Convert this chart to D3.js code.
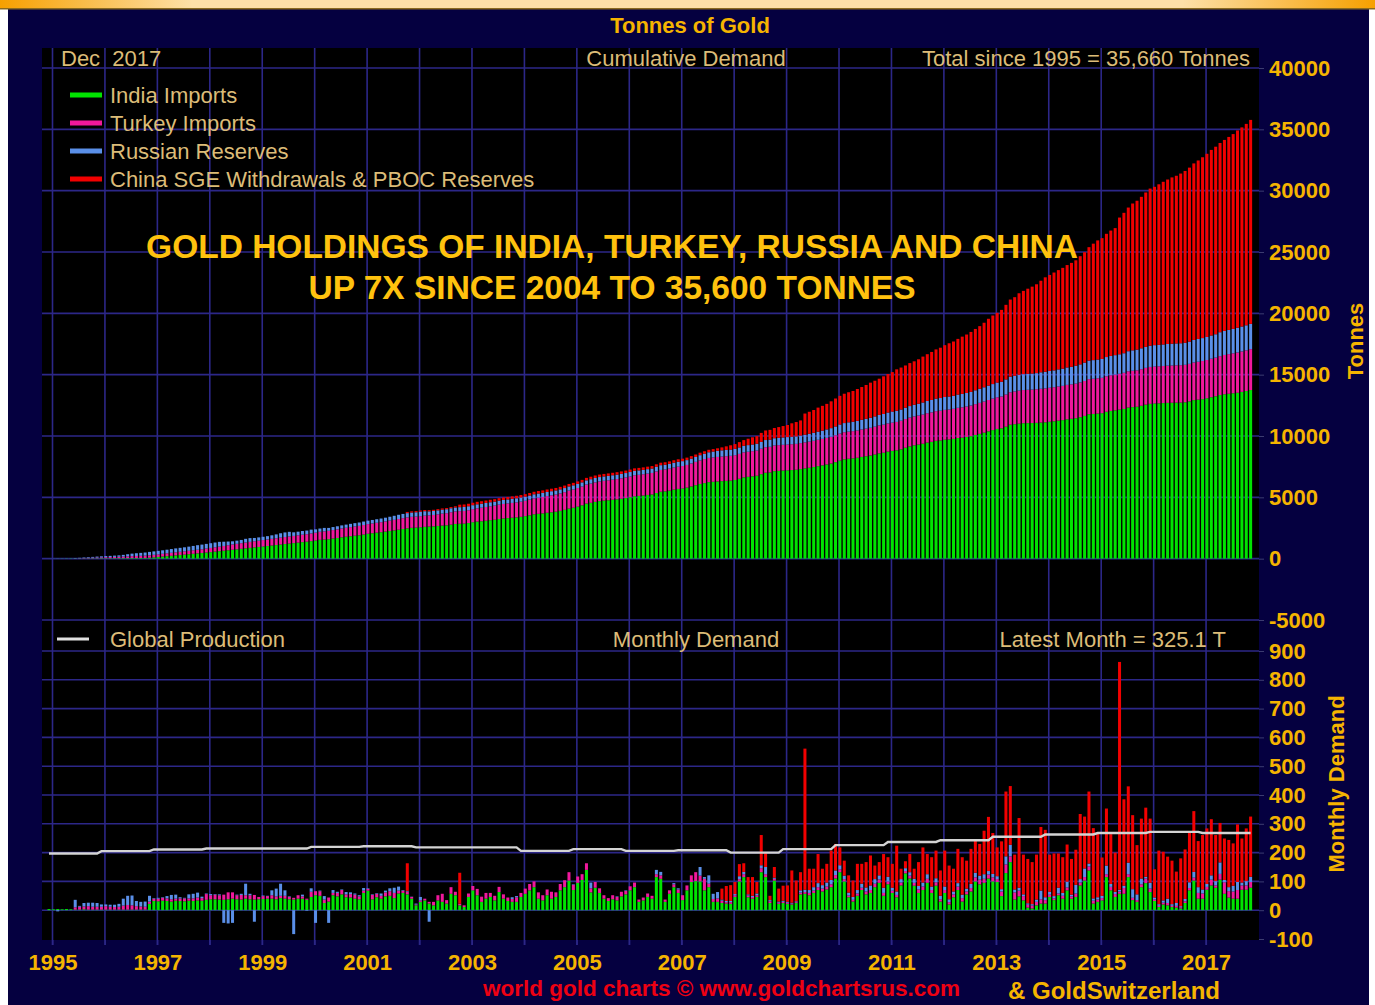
<!DOCTYPE html>
<html>
<head>
<meta charset="utf-8">
<title>Tonnes of Gold</title>
<script src="https://cdn.jsdelivr.net/npm/d3@7"></script>
<style>
body { margin:0; background:#fff; }
text { font-family: "Liberation Sans", Arial, sans-serif; }
</style>
</head>
<body>
<div id="chart"></div>
<script>

// monthly tonnes, Jan 1995 .. Dec 2017 (one row per year)
var years = d3.range(1995, 2018);

var india = [
 4,3,4,3,4,3,2,2,3,2,2,2,
 2,2,2,2,2,2,2,2,2,2,2,22,
 32,31,33,32,30,33,32,31,33,32,34,33,
 36,38,38,37,36,38,40,38,37,40,38,37,
 38,39,40,40,38,42,40,38,37,40,40,36,
 46,52,50,25,30,52,48,55,45,44,40,38,
 60,68,38,45,40,48,50,42,58,60,55,40,
 17,29,34,23,17,34,29,23,57,52,17,11,
 46,69,52,29,40,46,34,63,40,32,29,29,
 46,57,69,80,40,34,52,40,46,69,80,103,
 70,95,105,140,62,78,60,40,32,38,34,48,
 55,69,80,29,34,46,40,115,109,29,57,80,
 60,35,69,98,101,100,69,80,29,29,25,23,
 22,46,100,115,45,40,46,132,115,25,103,22,
 25,22,20,25,55,57,52,60,70,65,72,80,
 110,132,100,45,30,50,70,55,60,80,95,50,
 90,60,45,86,128,110,85,60,70,95,60,85,
 30,60,20,45,70,30,55,65,100,90,95,110,
 100,98,49,129,167,37,48,34,9,6,17,23,
 23,46,35,52,40,69,40,46,86,103,138,23,
 29,34,115,69,46,57,57,115,35,29,80,94,
 63,32,11,20,17,11,9,6,25,69,103,40,
 40,71,86,78,106,57,44,40,40,71,71,78
];

var turkey = [
 0,0,0,0,0,0,8,10,10,12,10,10,
 10,12,10,9,10,14,16,15,12,11,10,8,
 8,9,10,9,8,7,9,10,8,9,10,9,
 20,14,16,15,18,24,22,14,16,12,14,16,
 8,10,9,12,10,8,10,8,6,12,8,4,
 18,14,16,12,14,8,12,15,10,12,14,10,
 8,6,15,12,10,14,16,18,10,8,10,6,
 3,5,6,6,12,18,28,12,23,12,6,6,
 12,15,22,18,20,14,16,18,15,12,10,16,
 14,18,22,20,22,18,20,24,16,22,24,29,
 18,22,20,23,14,20,16,12,10,14,12,16,
 12,14,16,8,10,12,10,10,12,8,12,10,
 12,17,17,23,31,20,40,12,10,12,8,5,
 6,6,8,10,6,6,6,14,10,6,6,4,
 4,4,3,3,6,6,8,8,10,10,10,10,
 12,10,8,6,6,8,8,10,10,12,12,10,
 10,8,8,10,8,10,10,12,12,14,10,12,
 8,10,8,10,12,12,10,12,14,16,14,14,
 14,10,16,30,20,25,20,15,10,10,12,15,
 12,8,6,6,10,10,8,12,10,12,14,10,
 8,8,10,12,10,8,20,10,8,6,10,16,
 12,6,4,6,8,4,6,4,6,8,10,20,
 18,10,20,8,20,40,22,25,30,15,15,20
];

var russia = [
 0,0,-4,0,0,0,26,3,12,12,14,13,
 8,6,7,8,10,24,32,34,18,16,18,20,
 2,3,2,8,15,14,4,2,14,16,17,5,
 2,4,2,3,-44,-46,-44,2,4,40,5,-40,
 0,2,1,17,27,42,19,2,-83,0,6,-2,
 12,-44,2,12,-44,10,4,2,8,6,4,4,
 9,2,2,2,8,6,10,18,14,2,2,1,
 3,12,0,-40,0,0,0,0,0,0,0,0,
 0,0,0,0,0,0,0,0,0,0,6,4,
 0,0,0,0,0,0,0,0,0,0,0,0,
 2,0,0,0,20,0,0,0,0,0,2,0,
 2,0,0,0,0,0,0,15,12,0,0,4,
 4,0,0,0,0,30,6,29,18,22,4,4,
 4,4,10,8,4,4,6,10,25,4,4,4,
 4,3,3,3,8,8,10,12,14,12,14,15,
 16,14,12,10,10,12,14,14,16,16,14,18,
 16,10,12,12,10,12,14,12,14,16,12,14,
 12,12,10,10,12,12,10,14,16,14,16,12,
 12,10,8,28,40,10,10,6,5,5,8,30,
 10,10,8,20,10,20,6,30,12,30,10,8,
 8,8,30,10,8,6,8,40,30,20,20,6,
 20,6,6,8,15,6,10,4,8,20,20,20,
 14,10,15,15,40,8,14,20,28,10,15,18
];

var china = [
 0,0,0,0,0,0,0,0,0,0,0,0,
 0,0,0,0,0,0,0,0,0,0,0,0,
 0,0,0,0,0,0,0,0,0,0,0,0,
 0,0,0,0,0,0,0,0,0,0,0,0,
 0,0,0,0,0,0,0,0,0,0,0,0,
 0,0,0,0,0,0,0,0,0,0,0,0,
 0,0,0,0,0,0,0,0,0,0,96,0,
 0,0,0,0,0,0,0,0,0,0,107,0,
 0,0,0,0,0,0,0,0,0,0,0,0,
 0,0,0,0,0,0,0,0,0,0,0,0,
 0,0,0,0,0,0,0,0,0,0,0,0,
 0,0,0,0,0,0,0,0,0,0,0,0,
 0,0,0,0,0,0,0,0,0,0,38,52,
 55,42,42,30,60,65,40,105,48,15,37,45,
 52,57,112,72,63,490,74,64,101,57,65,102,
 92,62,52,60,57,91,69,88,104,47,46,117,
 68,83,159,36,24,63,35,83,122,70,102,96,
 88,125,117,79,119,130,97,122,111,110,151,188,
 142,100,166,225,204,121,242,138,154,146,156,221,
 234,129,148,119,124,129,124,122,226,180,250,244,
 222,133,198,173,136,791,300,265,257,171,208,240,
 223,98,186,169,146,151,109,166,172,175,211,160,
 189,193,195,160,137,144,164,147,200,153,183,209.1
];

// yearly global mine production, tonnes per month
var production = [197,205,211,214,214,220,222,218,218,206,212,206,208,200,212,226,237,243,255,263,268,272,268];

var keys = ["india", "turkey", "russia", "china"];
var names = ["India Imports", "Turkey Imports", "Russian Reserves", "China SGE Withdrawals & PBOC Reserves"];
var colors = ["#00e400", "#f0189c", "#5a8fe8", "#f20000"];

var yearTicks = d3.range(1995, 2018);
var cumTicks = d3.range(-5000, 40001, 5000);
var monthTicks = d3.range(-100, 901, 100);

var W = 1375, H = 1005;
var plot = {left: 42, right: 1259, top: 48, bottom: 940};
var gold = "#f5b400", tan = "#dcbc78", grid = "#2c2788";

var svg = d3.select("#chart").append("svg")
    .attr("width", W)
    .attr("height", H);

var grad = svg.append("defs").append("linearGradient").attr("id", "band");
grad.selectAll("stop")
  .data([["0%", "#f6a000"], ["14%", "#fde0a8"], ["86%", "#fde0a8"], ["100%", "#f6a000"]])
  .enter().append("stop")
    .attr("offset", function(d) { return d[0]; })
    .attr("stop-color", function(d) { return d[1]; });

svg.append("rect").attr("x", 8).attr("y", 8).attr("width", 1361).attr("height", H - 8).attr("fill", "#050040");
svg.append("rect").attr("x", 0).attr("y", 0).attr("width", W).attr("height", 8).attr("fill", "url(#band)");
svg.append("rect").attr("x", 0).attr("y", 8).attr("width", W).attr("height", 1.5).attr("fill", "#8a6a20");
svg.append("rect")
    .attr("x", plot.left).attr("y", plot.top)
    .attr("width", plot.right - plot.left).attr("height", plot.bottom - plot.top)
    .attr("fill", "#000");

// scales
var x = d3.scaleLinear().domain([1995, 2018]).range([52.5, 1258.5]);
var yTop = d3.scaleLinear().domain([-5000, 40000]).range([620, 68]);
var yBot = d3.scaleLinear().domain([-100, 900]).range([939, 651]);

var months = [];
years.forEach(function(yr) {
  for (var m = 0; m < 12; m++) months.push(yr + m / 12);
});

var series = {india: india, turkey: turkey, russia: russia, china: china};
var cum = {};
keys.forEach(function(k) { cum[k] = Array.from(d3.cumsum(series[k])); });

var rows = months.map(function(t, i) {
  return {t: t, india: india[i], turkey: turkey[i], russia: russia[i], china: china[i]};
});
var cumRows = months.map(function(t, i) {
  return {t: t, india: cum.india[i], turkey: cum.turkey[i], russia: cum.russia[i], china: cum.china[i]};
});

// gridlines
var gg = svg.append("g").attr("stroke", grid).attr("stroke-width", 1.6);
gg.selectAll("vline")
  .data(yearTicks)
  .enter().append("line")
    .attr("x1", function(d) { return x(d); })
    .attr("x2", function(d) { return x(d); })
    .attr("y1", plot.top).attr("y2", plot.bottom + 5);
gg.selectAll("htop")
  .data(cumTicks)
  .enter().append("line")
    .attr("x1", plot.left).attr("x2", plot.right)
    .attr("y1", function(d) { return yTop(d); })
    .attr("y2", function(d) { return yTop(d); });
gg.selectAll("hbot")
  .data(monthTicks.filter(function(d) { return d > -100; }))
  .enter().append("line")
    .attr("x1", plot.left).attr("x2", plot.right)
    .attr("y1", function(d) { return yBot(d); })
    .attr("y2", function(d) { return yBot(d); });

var stack = d3.stack().keys(keys).offset(d3.stackOffsetDiverging);

function drawBars(data, y) {
  var layers = stack(data);
  var g = svg.append("g");
  g.selectAll("g")
    .data(layers)
    .enter().append("g")
      .attr("fill", function(d, i) { return colors[i]; })
    .selectAll("rect")
    .data(function(d) { return d; })
    .enter().append("rect")
      .attr("x", function(d) { return x(d.data.t) - 5; })
      .attr("width", 3)
      .attr("y", function(d) { return y(Math.max(d[0], d[1])); })
      .attr("height", function(d) { return Math.abs(y(d[0]) - y(d[1])); });
}

drawBars(cumRows, yTop);
drawBars(rows, yBot);

// global production line
var prodLine = d3.line()
  .x(function(d, i) { return x(months[i]) - 3.5; })
  .y(function(d) { return yBot(d); });
svg.append("path")
  .datum(months.map(function(t, i) { return production[Math.floor(i / 12)]; }))
  .attr("d", prodLine)
  .attr("fill", "none")
  .attr("stroke", "#d4d4d4")
  .attr("stroke-width", 2.4);

// axes
function styleAxis(g) {
  g.attr("font-family", "Liberation Sans, Arial, sans-serif").attr("font-size", 22).attr("font-weight", "bold");
  g.select(".domain").remove();
  g.selectAll(".tick line").attr("stroke", "#3c3c70");
  g.selectAll("text").attr("fill", gold);
}

svg.append("g")
  .attr("transform", "translate(" + plot.right + ",0)")
  .call(d3.axisRight(yTop).tickValues(cumTicks).tickSize(5).tickPadding(5)
    .tickFormat(function(d) { return String(d); }))
  .call(styleAxis);

svg.append("g")
  .attr("transform", "translate(" + plot.right + ",0)")
  .call(d3.axisRight(yBot).tickValues(monthTicks).tickSize(5).tickPadding(5)
    .tickFormat(function(d) { return String(d); }))
  .call(styleAxis);

svg.append("g")
  .attr("transform", "translate(0," + plot.bottom + ")")
  .call(d3.axisBottom(x).tickValues(yearTicks).tickSize(5).tickPadding(9)
    .tickFormat(function(d) { return d % 2 === 1 ? d : ""; }))
  .call(styleAxis)
  .selectAll(".tick line").attr("stroke", grid);

// titles and labels
function label(txt, px, py, opts) {
  opts = opts || {};
  return svg.append("text")
    .attr("x", px).attr("y", py)
    .attr("text-anchor", opts.anchor || "start")
    .attr("fill", opts.fill || tan)
    .style("font-size", (opts.size || 22) + "px")
    .style("font-weight", opts.bold ? "bold" : "normal")
    .text(txt);
}

label("Tonnes of Gold", 690, 33, {anchor: "middle", fill: gold, bold: true});
label("Dec\u00a0 2017", 61, 66);
label("Cumulative Demand", 686, 66, {anchor: "middle"});
label("Total since 1995 = 35,660 Tonnes", 1250, 66, {anchor: "end"});

label("GOLD HOLDINGS OF INDIA, TURKEY, RUSSIA AND CHINA", 612, 258, {anchor: "middle", fill: "#ffc20e", bold: true, size: 33.5});
label("UP 7X SINCE 2004 TO 35,600 TONNES", 612, 299, {anchor: "middle", fill: "#ffc20e", bold: true, size: 33.5});

var leg = svg.append("g");
names.forEach(function(n, i) {
  var ly = 95 + i * 28;
  leg.append("line")
    .attr("x1", 70).attr("x2", 102).attr("y1", ly).attr("y2", ly)
    .attr("stroke", colors[i]).attr("stroke-width", 5);
  label(n, 110, ly + 8);
});

svg.append("line")
  .attr("x1", 57).attr("x2", 89).attr("y1", 639).attr("y2", 639)
  .attr("stroke", "#e0e0e0").attr("stroke-width", 3);
label("Global Production", 110, 647);
label("Monthly Demand", 696, 647, {anchor: "middle"});
label("Latest Month = 325.1 T", 1226, 647, {anchor: "end"});

label("Tonnes", 0, 0, {anchor: "middle", fill: gold, bold: true})
  .attr("transform", "translate(1363,341) rotate(-90)");
label("Monthly Demand", 0, 0, {anchor: "middle", fill: gold, bold: true})
  .attr("transform", "translate(1344,784) rotate(-90)");

label("world gold charts \u00a9 www.goldchartsrus.com", 483, 996, {fill: "#ee0012", bold: true, size: 22.5});
label("& GoldSwitzerland", 1008, 999, {fill: gold, bold: true, size: 24});

</script>
</body>
</html>
